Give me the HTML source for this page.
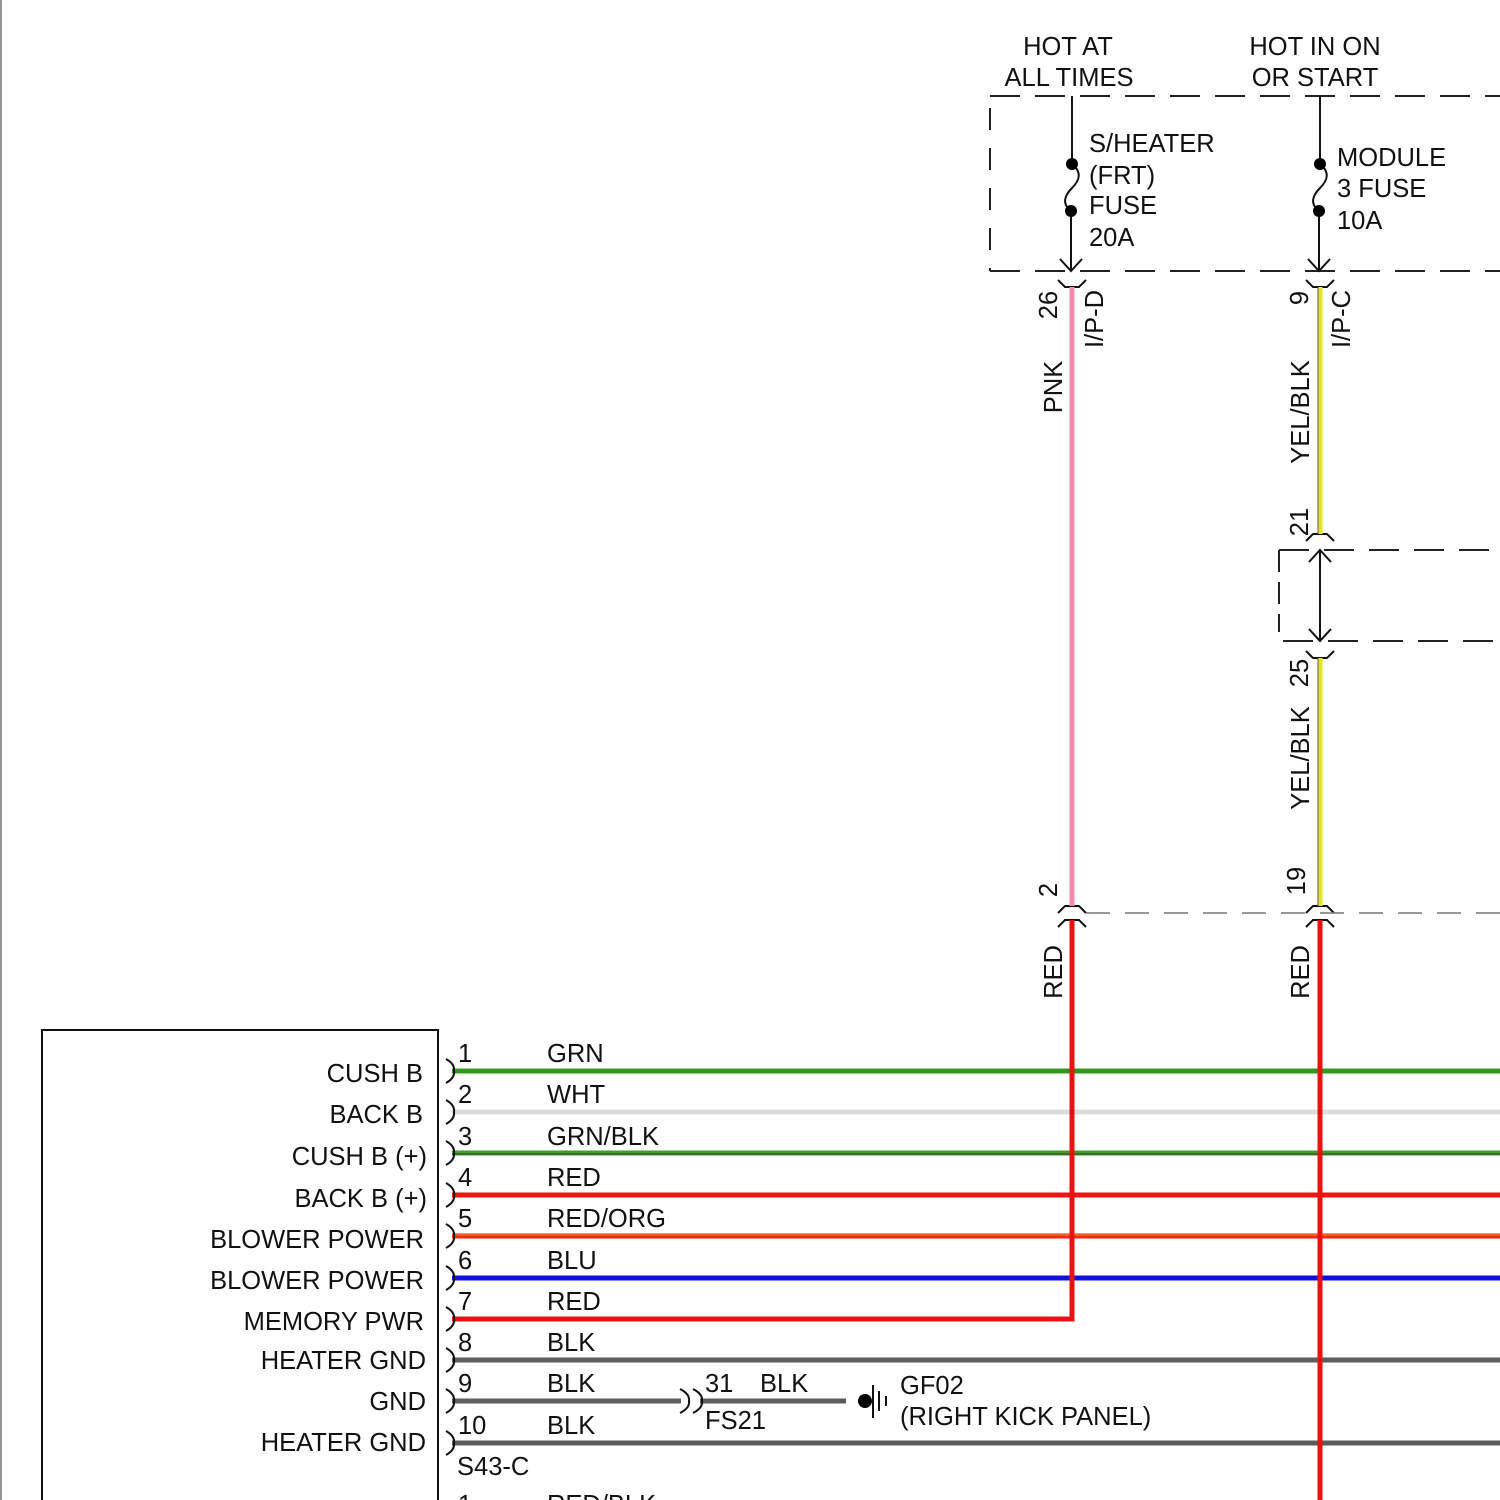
<!DOCTYPE html>
<html><head><meta charset="utf-8"><style>
html,body{margin:0;padding:0;background:#fff;}
svg{display:block;}
text{font-family:"Liberation Sans",Arial,sans-serif;fill:#111;font-size:25.5px;}
</style></head><body>
<svg width="1500" height="1500" viewBox="0 0 1500 1500" xmlns="http://www.w3.org/2000/svg">
<rect width="1500" height="1500" fill="#fff"/>
<line x1="1" y1="0" x2="1" y2="1500" stroke="#999" stroke-width="2"/>

<!-- Top labels -->
<text x="1068" y="55" text-anchor="middle">HOT AT</text>
<text x="1069" y="86" text-anchor="middle">ALL TIMES</text>
<text x="1315" y="55" text-anchor="middle">HOT IN ON</text>
<text x="1315" y="86" text-anchor="middle">OR START</text>

<!-- fuse block dashed box -->
<g stroke="#222" stroke-width="2" fill="none" stroke-dasharray="30,15">
<line x1="990" y1="96" x2="1500" y2="96"/>
<line x1="990" y1="271" x2="1500" y2="271"/>
<line x1="990" y1="108" x2="990" y2="271" stroke-dasharray="22,18"/>
</g>

<!-- fuses -->
<g stroke="#111" stroke-width="2" fill="none">
<line x1="1072" y1="96" x2="1072" y2="164"/>
<path d="M1072,164 C1082,172 1080,180 1072,188 C1064,196 1062,204 1071,211"/>
<line x1="1071" y1="211" x2="1071" y2="271"/>
<polyline points="1060,259 1071,271 1082,259"/>
<line x1="1320" y1="96" x2="1320" y2="164"/>
<path d="M1320,164 C1330,172 1328,180 1320,188 C1312,196 1310,204 1319,211"/>
<line x1="1319" y1="211" x2="1319" y2="271"/>
<polyline points="1308,259 1319,271 1330,259"/>
</g>
<circle cx="1072" cy="164" r="6" fill="#000"/>
<circle cx="1071" cy="211" r="6" fill="#000"/>
<circle cx="1320" cy="164" r="6" fill="#000"/>
<circle cx="1319" cy="211" r="6" fill="#000"/>

<text x="1089" y="152">S/HEATER</text>
<text x="1089" y="184">(FRT)</text>
<text x="1089" y="214">FUSE</text>
<text x="1089" y="246">20A</text>
<text x="1337" y="166">MODULE</text>
<text x="1337" y="197">3 FUSE</text>
<text x="1337" y="229">10A</text>

<!-- connector shapes -->
<g stroke="#111" stroke-width="2" fill="none">
<polyline points="1058,280 1065,287 1079,287 1086,280"/>
<polyline points="1306,280 1313,287 1327,287 1334,280"/>
<polyline points="1306,541 1313,534 1327,534 1334,541"/>
<polyline points="1306,651 1313,658 1327,658 1334,651"/>
<polyline points="1058,913 1065,906 1079,906 1086,913"/>
<polyline points="1058,927 1065,920 1079,920 1086,927"/>
<polyline points="1306,913 1313,906 1327,906 1334,913"/>
<polyline points="1306,927 1313,920 1327,920 1334,927"/>
</g>

<!-- pink wire -->
<line x1="1072" y1="287" x2="1072" y2="906" stroke="#f08cab" stroke-width="5"/>
<!-- yellow/blk wire -->
<g>
<line x1="1320" y1="287" x2="1320" y2="534" stroke="#e6e61e" stroke-width="5"/>
<line x1="1318" y1="287" x2="1318" y2="534" stroke="#555" stroke-width="1"/>
<line x1="1320" y1="658" x2="1320" y2="906" stroke="#e6e61e" stroke-width="5"/>
<line x1="1318" y1="658" x2="1318" y2="906" stroke="#555" stroke-width="1"/>
</g>

<!-- second dashed box -->
<g stroke="#222" stroke-width="2" fill="none" stroke-dasharray="30,15">
<line x1="1279" y1="550" x2="1500" y2="550"/>
<line x1="1283" y1="641" x2="1500" y2="641"/>
<line x1="1279" y1="550" x2="1279" y2="632" stroke-dasharray="22,10"/>
</g>
<g stroke="#111" stroke-width="2" fill="none">
<line x1="1320" y1="550" x2="1320" y2="641"/>
<polyline points="1309,562 1320,550 1331,562"/>
<polyline points="1309,629 1320,641 1331,629"/>
</g>

<line x1="1086" y1="913" x2="1500" y2="913" stroke="#777" stroke-width="1.5" stroke-dasharray="24,15"/>

<!-- rotated labels -->
<g>
<text transform="translate(1057,305) rotate(-90)" text-anchor="middle">26</text>
<text transform="translate(1103,319) rotate(-90)" text-anchor="middle">I/P-D</text>
<text transform="translate(1062,387) rotate(-90)" text-anchor="middle">PNK</text>
<text transform="translate(1308,298) rotate(-90)" text-anchor="middle">9</text>
<text transform="translate(1350,319) rotate(-90)" text-anchor="middle">I/P-C</text>
<text transform="translate(1309,412) rotate(-90)" text-anchor="middle">YEL/BLK</text>
<text transform="translate(1308,522) rotate(-90)" text-anchor="middle">21</text>
<text transform="translate(1308,673) rotate(-90)" text-anchor="middle">25</text>
<text transform="translate(1309,758) rotate(-90)" text-anchor="middle">YEL/BLK</text>
<text transform="translate(1057,890) rotate(-90)" text-anchor="middle">2</text>
<text transform="translate(1305,881) rotate(-90)" text-anchor="middle">19</text>
<text transform="translate(1062,972) rotate(-90)" text-anchor="middle">RED</text>
<text transform="translate(1309,972) rotate(-90)" text-anchor="middle">RED</text>
</g>

<!-- Module box -->
<rect x="42" y="1030" width="396" height="500" fill="none" stroke="#111" stroke-width="2"/>

<g text-anchor="end">
<text x="423" y="1082">CUSH B</text>
<text x="423" y="1123">BACK B</text>
<text x="427" y="1165">CUSH B (+)</text>
<text x="427" y="1207">BACK B (+)</text>
<text x="424" y="1248">BLOWER POWER</text>
<text x="424" y="1289">BLOWER POWER</text>
<text x="424" y="1330">MEMORY PWR</text>
<text x="426" y="1369">HEATER GND</text>
<text x="426" y="1410">GND</text>
<text x="426" y="1451">HEATER GND</text>
</g>

<!-- horizontal wires -->
<line x1="452" y1="1071" x2="1500" y2="1071" stroke="#2f9a1c" stroke-width="5"/>
<line x1="452" y1="1112" x2="1500" y2="1112" stroke="#dcdcdc" stroke-width="5"/>
<line x1="452" y1="1153" x2="1500" y2="1153" stroke="#3fa02a" stroke-width="5"/>
<line x1="452" y1="1154" x2="1500" y2="1154" stroke="#3a5a30" stroke-width="1.5"/>
<line x1="452" y1="1195" x2="1500" y2="1195" stroke="#ea1515" stroke-width="5"/>
<line x1="452" y1="1236" x2="1500" y2="1236" stroke="#ee2a10" stroke-width="5"/>
<line x1="452" y1="1235" x2="1500" y2="1235" stroke="#f07020" stroke-width="1.5"/>
<line x1="452" y1="1278" x2="1500" y2="1278" stroke="#1010e0" stroke-width="5"/>
<line x1="452" y1="1360" x2="1500" y2="1360" stroke="#5e5e5e" stroke-width="5"/>
<line x1="452" y1="1401" x2="681" y2="1401" stroke="#5e5e5e" stroke-width="5"/>
<line x1="700" y1="1401" x2="846" y2="1401" stroke="#5e5e5e" stroke-width="5"/>
<line x1="452" y1="1443" x2="1500" y2="1443" stroke="#5e5e5e" stroke-width="5"/>

<!-- red verticals -->
<polyline points="452,1319 1072,1319 1072,920" fill="none" stroke="#e81212" stroke-width="5"/>
<line x1="1320" y1="920" x2="1320" y2="1500" stroke="#e81212" stroke-width="5"/>

<!-- connector brackets -->
<g stroke="#111" stroke-width="2" fill="none">
<path d="M446,1059 Q455,1064 454,1071 Q455,1078 446,1083"/>
<path d="M446,1100 Q455,1105 454,1112 Q455,1119 446,1124"/>
<path d="M446,1141 Q455,1146 454,1153 Q455,1160 446,1165"/>
<path d="M446,1183 Q455,1188 454,1195 Q455,1202 446,1207"/>
<path d="M446,1224 Q455,1229 454,1236 Q455,1243 446,1248"/>
<path d="M446,1266 Q455,1271 454,1278 Q455,1285 446,1290"/>
<path d="M446,1307 Q455,1312 454,1319 Q455,1326 446,1331"/>
<path d="M446,1348 Q455,1353 454,1360 Q455,1367 446,1372"/>
<path d="M446,1389 Q455,1394 454,1401 Q455,1408 446,1413"/>
<path d="M446,1431 Q455,1436 454,1443 Q455,1450 446,1455"/>
<path d="M680,1389 Q690,1394 689,1401 Q690,1408 680,1413"/>
<path d="M693,1389 Q703,1394 702,1401 Q703,1408 693,1413"/>
</g>

<!-- wire numbers & colors -->
<g>
<text x="458" y="1062">1</text><text x="547" y="1062">GRN</text>
<text x="458" y="1103">2</text><text x="547" y="1103">WHT</text>
<text x="458" y="1145">3</text><text x="547" y="1145">GRN/BLK</text>
<text x="458" y="1186">4</text><text x="547" y="1186">RED</text>
<text x="458" y="1227">5</text><text x="547" y="1227">RED/ORG</text>
<text x="458" y="1269">6</text><text x="547" y="1269">BLU</text>
<text x="458" y="1310">7</text><text x="547" y="1310">RED</text>
<text x="458" y="1351">8</text><text x="547" y="1351">BLK</text>
<text x="458" y="1392">9</text><text x="547" y="1392">BLK</text>
<text x="458" y="1434">10</text><text x="547" y="1434">BLK</text>
<text x="457" y="1475">S43-C</text>
<text x="458" y="1513">1</text><text x="547" y="1513">RED/BLK</text>
</g>

<text x="705" y="1392">31</text>
<text x="760" y="1392">BLK</text>
<text x="705" y="1429">FS21</text>

<!-- ground -->
<circle cx="865" cy="1401" r="7" fill="#000"/>
<line x1="873" y1="1385" x2="873" y2="1418" stroke="#111" stroke-width="2"/>
<line x1="879" y1="1391" x2="879" y2="1411" stroke="#111" stroke-width="2"/>
<line x1="886" y1="1396" x2="886" y2="1406" stroke="#111" stroke-width="2"/>
<text x="900" y="1394">GF02</text>
<text x="900" y="1425">(RIGHT KICK PANEL)</text>
</svg>
</body></html>
